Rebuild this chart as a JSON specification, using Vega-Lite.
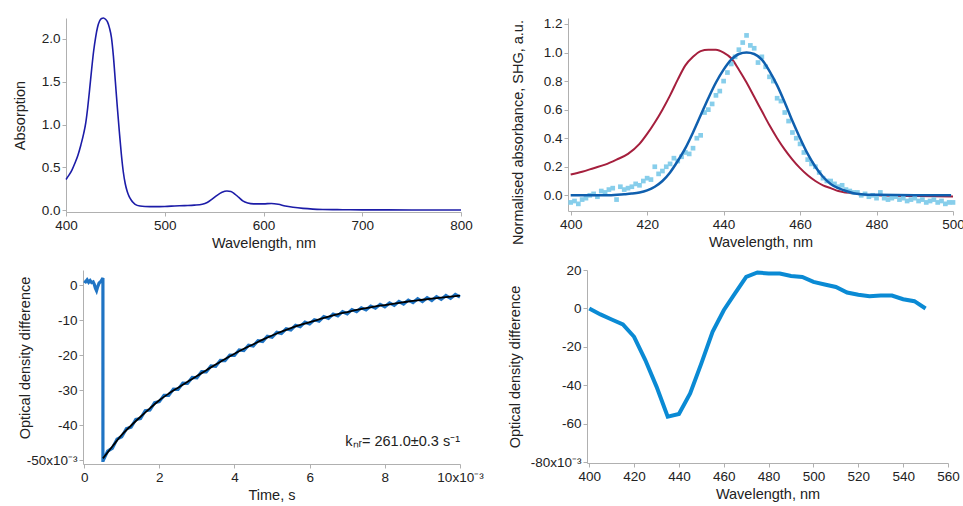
{
  "$schema": "https://vega.github.io/schema/vega-lite/v6.json",
  "padding": {"left": 12, "top": 14, "right": 0, "bottom": 0},
  "background": "white",
  "config": {
    "font": "Liberation Sans",
    "view": {"stroke": null},
    "axis": {"grid": false, "domainColor": "#b0b0b0", "tickColor": "#b0b0b0", "tickSize": 4, "labelPadding": 2, "labelFontSize": 13.5, "titleFontSize": 14.5, "titleFontWeight": "normal", "labelColor": "#222222", "titleColor": "#222222", "labelFont": "Liberation Sans", "titleFont": "Liberation Sans", "titlePadding": 5, "labelOverlap": false, "labelFlush": false, "tickCount": 20}
  },
  "datasets": {
    "abs": [{"w":400,"a":0.36},{"w":403,"a":0.41},{"w":406,"a":0.47},{"w":409,"a":0.55},{"w":412,"a":0.64},{"w":415,"a":0.76},{"w":418,"a":0.9},{"w":420,"a":1.02},{"w":422,"a":1.2},{"w":424,"a":1.42},{"w":426,"a":1.65},{"w":428,"a":1.86},{"w":430,"a":2.02},{"w":432,"a":2.14},{"w":434,"a":2.21},{"w":436,"a":2.24},{"w":438,"a":2.245},{"w":440,"a":2.23},{"w":442,"a":2.2},{"w":444,"a":2.13},{"w":446,"a":2.02},{"w":448,"a":1.8},{"w":450,"a":1.5},{"w":452,"a":1.2},{"w":454,"a":0.92},{"w":456,"a":0.66},{"w":458,"a":0.45},{"w":460,"a":0.31},{"w":462,"a":0.22},{"w":464,"a":0.16},{"w":466,"a":0.12},{"w":468,"a":0.09},{"w":470,"a":0.07},{"w":475,"a":0.05},{"w":480,"a":0.045},{"w":490,"a":0.043},{"w":500,"a":0.045},{"w":510,"a":0.05},{"w":520,"a":0.055},{"w":530,"a":0.06},{"w":538,"a":0.07},{"w":543,"a":0.09},{"w":548,"a":0.13},{"w":553,"a":0.175},{"w":558,"a":0.21},{"w":563,"a":0.225},{"w":567,"a":0.22},{"w":571,"a":0.19},{"w":575,"a":0.15},{"w":579,"a":0.11},{"w":584,"a":0.085},{"w":590,"a":0.075},{"w":600,"a":0.075},{"w":608,"a":0.08},{"w":615,"a":0.07},{"w":622,"a":0.05},{"w":630,"a":0.035},{"w":640,"a":0.022},{"w":650,"a":0.014},{"w":660,"a":0.01},{"w":680,"a":0.007},{"w":700,"a":0.005},{"w":750,"a":0.004},{"w":800,"a":0.003}],
    "norm": [
      {"w":400,"v":0.145},{"w":403,"v":0.165},{"w":406,"v":0.19},{"w":409,"v":0.215},{"w":412,"v":0.25},{"w":415,"v":0.29},{"w":418,"v":0.36},{"w":420,"v":0.43},{"w":422,"v":0.51},{"w":424,"v":0.6},{"w":426,"v":0.7},{"w":428,"v":0.81},{"w":430,"v":0.91},{"w":432,"v":0.97},{"w":434,"v":1.01},{"w":436,"v":1.02},{"w":438,"v":1.02},{"w":440,"v":1.0},{"w":442,"v":0.96},{"w":444,"v":0.88},{"w":446,"v":0.79},{"w":448,"v":0.69},{"w":450,"v":0.59},{"w":452,"v":0.49},{"w":454,"v":0.4},{"w":456,"v":0.32},{"w":458,"v":0.25},{"w":460,"v":0.19},{"w":462,"v":0.14},{"w":464,"v":0.1},{"w":466,"v":0.07},{"w":468,"v":0.05},{"w":470,"v":0.03},{"w":472,"v":0.02},{"w":474,"v":0.012},{"w":476,"v":0.006},{"w":480,"v":0.0},{"w":490,"v":-0.005},{"w":500,"v":-0.008}
    ],
    "fit": [{"w":400,"v":0.0},{"w":410,"v":0.0},{"w":414,"v":0.007},{"w":416,"v":0.012},{"w":418,"v":0.02},{"w":420,"v":0.035},{"w":422,"v":0.06},{"w":424,"v":0.1},{"w":426,"v":0.16},{"w":428,"v":0.24},{"w":430,"v":0.33},{"w":432,"v":0.44},{"w":434,"v":0.56},{"w":436,"v":0.68},{"w":438,"v":0.79},{"w":440,"v":0.88},{"w":442,"v":0.95},{"w":444,"v":0.99},{"w":446,"v":1.0},{"w":448,"v":0.99},{"w":450,"v":0.95},{"w":452,"v":0.87},{"w":454,"v":0.77},{"w":456,"v":0.65},{"w":458,"v":0.52},{"w":460,"v":0.4},{"w":462,"v":0.29},{"w":464,"v":0.2},{"w":466,"v":0.13},{"w":468,"v":0.08},{"w":470,"v":0.05},{"w":472,"v":0.03},{"w":474,"v":0.015},{"w":476,"v":0.008},{"w":480,"v":0.003},{"w":490,"v":0.0},{"w":499.5,"v":0.0}],
    "shg": [{"w":400,"v":-0.05},{"w":401,"v":-0.04},{"w":402,"v":-0.06},{"w":403,"v":-0.03},{"w":404,"v":-0.02},{"w":405,"v":0.0},{"w":406,"v":0.01},{"w":407,"v":-0.01},{"w":408,"v":0.03},{"w":409,"v":0.02},{"w":410,"v":0.04},{"w":411,"v":0.05},{"w":412,"v":-0.03},{"w":413,"v":0.06},{"w":414,"v":0.04},{"w":415,"v":0.05},{"w":416,"v":0.06},{"w":417,"v":0.08},{"w":418,"v":0.07},{"w":419,"v":0.1},{"w":420,"v":0.12},{"w":421,"v":0.11},{"w":422,"v":0.2},{"w":423,"v":0.15},{"w":424,"v":0.17},{"w":425,"v":0.2},{"w":426,"v":0.22},{"w":427,"v":0.26},{"w":428,"v":0.24},{"w":429,"v":0.27},{"w":430,"v":0.3},{"w":431,"v":0.29},{"w":432,"v":0.33},{"w":433,"v":0.4},{"w":434,"v":0.42},{"w":435,"v":0.58},{"w":436,"v":0.6},{"w":437,"v":0.64},{"w":438,"v":0.7},{"w":439,"v":0.73},{"w":440,"v":0.8},{"w":441,"v":0.86},{"w":442,"v":0.92},{"w":443,"v":0.97},{"w":444,"v":1.02},{"w":445,"v":1.07},{"w":446,"v":1.12},{"w":447,"v":1.05},{"w":448,"v":1.03},{"w":449,"v":0.93},{"w":450,"v":0.97},{"w":451,"v":0.9},{"w":452,"v":0.83},{"w":453,"v":0.8},{"w":454,"v":0.68},{"w":455,"v":0.66},{"w":456,"v":0.58},{"w":457,"v":0.52},{"w":458,"v":0.44},{"w":459,"v":0.4},{"w":460,"v":0.36},{"w":461,"v":0.3},{"w":462,"v":0.25},{"w":463,"v":0.22},{"w":464,"v":0.2},{"w":465,"v":0.16},{"w":466,"v":0.12},{"w":467,"v":0.1},{"w":468,"v":0.1},{"w":469,"v":0.08},{"w":470,"v":0.06},{"w":471,"v":0.07},{"w":472,"v":0.04},{"w":473,"v":0.03},{"w":474,"v":0.02},{"w":475,"v":0.02},{"w":476,"v":0.0},{"w":477,"v":0.01},{"w":478,"v":-0.01},{"w":479,"v":0.0},{"w":480,"v":-0.02},{"w":481,"v":0.02},{"w":482,"v":-0.02},{"w":483,"v":-0.03},{"w":484,"v":-0.02},{"w":485,"v":-0.01},{"w":486,"v":-0.03},{"w":487,"v":-0.02},{"w":488,"v":-0.04},{"w":489,"v":-0.03},{"w":490,"v":-0.02},{"w":491,"v":-0.04},{"w":492,"v":-0.03},{"w":493,"v":-0.05},{"w":494,"v":-0.04},{"w":495,"v":-0.03},{"w":496,"v":-0.05},{"w":497,"v":-0.04},{"w":498,"v":-0.06},{"w":499,"v":-0.05},{"w":500,"v":-0.05}],
    "kin": [{"i":1,"t":0.0,"v":1.2},{"i":2,"t":0.04,"v":0.9},{"i":3,"t":0.08,"v":1.5},{"i":4,"t":0.12,"v":0.8},{"i":5,"t":0.16,"v":1.3},{"i":6,"t":0.2,"v":0.7},{"i":7,"t":0.24,"v":0.9},{"i":8,"t":0.27,"v":0.2},{"i":9,"t":0.3,"v":-0.9},{"i":10,"t":0.33,"v":-1.6},{"i":11,"t":0.36,"v":-0.5},{"i":12,"t":0.4,"v":0.6},{"i":13,"t":0.44,"v":1.0},{"i":14,"t":0.48,"v":1.6},{"i":15,"t":0.5,"v":2.0},{"i":16,"t":0.5,"v":-50.5},
      {"i":17,"t":0.5,"v":-50.3},{"i":18,"t":0.625,"v":-47.4},{"i":19,"t":0.75,"v":-46.6},{"i":20,"t":0.875,"v":-44.0},{"i":21,"t":1.0,"v":-43.3},{"i":22,"t":1.125,"v":-41.0},{"i":23,"t":1.25,"v":-40.6},{"i":24,"t":1.375,"v":-38.4},{"i":25,"t":1.5,"v":-38.1},{"i":26,"t":1.625,"v":-35.9},{"i":27,"t":1.75,"v":-35.7},{"i":28,"t":1.875,"v":-33.6},{"i":29,"t":2.0,"v":-33.3},{"i":30,"t":2.125,"v":-31.5},{"i":31,"t":2.25,"v":-31.5},{"i":32,"t":2.375,"v":-29.7},{"i":33,"t":2.5,"v":-29.8},{"i":34,"t":2.625,"v":-28.0},{"i":35,"t":2.75,"v":-28.1},{"i":36,"t":2.875,"v":-26.4},{"i":37,"t":3.0,"v":-26.5},{"i":38,"t":3.125,"v":-24.7},{"i":39,"t":3.25,"v":-24.8},{"i":40,"t":3.375,"v":-23.1},{"i":41,"t":3.5,"v":-23.2},{"i":42,"t":3.625,"v":-21.5},{"i":43,"t":3.75,"v":-21.6},{"i":44,"t":3.875,"v":-20.0},{"i":45,"t":4.0,"v":-20.1},{"i":46,"t":4.125,"v":-18.5},{"i":47,"t":4.25,"v":-18.7},{"i":48,"t":4.375,"v":-17.2},{"i":49,"t":4.5,"v":-17.4},{"i":50,"t":4.625,"v":-15.9},{"i":51,"t":4.75,"v":-16.1},{"i":52,"t":4.875,"v":-14.6},{"i":53,"t":5.0,"v":-14.9},{"i":54,"t":5.125,"v":-13.5},{"i":55,"t":5.25,"v":-13.8},{"i":56,"t":5.375,"v":-12.5},{"i":57,"t":5.5,"v":-12.8},{"i":58,"t":5.625,"v":-11.5},{"i":59,"t":5.75,"v":-11.9},{"i":60,"t":5.875,"v":-10.6},{"i":61,"t":6.0,"v":-11.1},{"i":62,"t":6.125,"v":-9.9},{"i":63,"t":6.25,"v":-10.3},{"i":64,"t":6.375,"v":-9.0},{"i":65,"t":6.5,"v":-9.5},{"i":66,"t":6.625,"v":-8.3},{"i":67,"t":6.75,"v":-8.8},{"i":68,"t":6.875,"v":-7.6},{"i":69,"t":7.0,"v":-8.2},{"i":70,"t":7.125,"v":-7.0},{"i":71,"t":7.25,"v":-7.6},{"i":72,"t":7.375,"v":-6.5},{"i":73,"t":7.5,"v":-7.1},{"i":74,"t":7.625,"v":-6.0},{"i":75,"t":7.75,"v":-6.6},{"i":76,"t":7.875,"v":-5.5},{"i":77,"t":8.0,"v":-6.2},{"i":78,"t":8.125,"v":-5.1},{"i":79,"t":8.25,"v":-5.8},{"i":80,"t":8.375,"v":-4.7},{"i":81,"t":8.5,"v":-5.4},{"i":82,"t":8.625,"v":-4.3},{"i":83,"t":8.75,"v":-5.0},{"i":84,"t":8.875,"v":-3.9},{"i":85,"t":9.0,"v":-4.7},{"i":86,"t":9.125,"v":-3.6},{"i":87,"t":9.25,"v":-4.4},{"i":88,"t":9.375,"v":-3.3},{"i":89,"t":9.5,"v":-4.1},{"i":90,"t":9.625,"v":-3.0},{"i":91,"t":9.75,"v":-3.8},{"i":92,"t":9.875,"v":-2.7},{"i":93,"t":10.0,"v":-3.4}],
    "kfit": [{"t":0.5,"v":-49.5},{"t":0.75,"v":-46.1},{"t":1.0,"v":-42.8},{"t":1.25,"v":-40.1},{"t":1.5,"v":-37.6},{"t":1.75,"v":-35.2},{"t":2.0,"v":-32.9},{"t":2.25,"v":-31.0},{"t":2.5,"v":-29.3},{"t":2.75,"v":-27.6},{"t":3.0,"v":-26.0},{"t":3.25,"v":-24.3},{"t":3.5,"v":-22.7},{"t":3.75,"v":-21.1},{"t":4.0,"v":-19.6},{"t":4.25,"v":-18.2},{"t":4.5,"v":-16.9},{"t":4.75,"v":-15.6},{"t":5.0,"v":-14.4},{"t":5.25,"v":-13.3},{"t":5.5,"v":-12.3},{"t":5.75,"v":-11.4},{"t":6.0,"v":-10.6},{"t":6.25,"v":-9.8},{"t":6.5,"v":-9.0},{"t":6.75,"v":-8.3},{"t":7.0,"v":-7.7},{"t":7.25,"v":-7.1},{"t":7.5,"v":-6.6},{"t":7.75,"v":-6.1},{"t":8.0,"v":-5.7},{"t":8.25,"v":-5.3},{"t":8.5,"v":-4.9},{"t":8.75,"v":-4.5},{"t":9.0,"v":-4.2},{"t":9.25,"v":-3.9},{"t":9.5,"v":-3.6},{"t":9.75,"v":-3.3},{"t":10.0,"v":-3.0}],
    "note": [{"t":10.0,"v":-46.0,"txt":"kₙᵣ= 261.0±0.3 s⁻¹"}],
    "tr": [{"w":400,"v":0.0},{"w":405,"v":-3.1},{"w":410,"v":-5.7},{"w":415,"v":-8.3},{"w":420,"v":-14.7},{"w":425,"v":-26.8},{"w":430,"v":-40.6},{"w":435,"v":-56.2},{"w":440,"v":-54.8},{"w":445,"v":-44.1},{"w":450,"v":-28.5},{"w":455,"v":-12.1},{"w":460,"v":-0.9},{"w":465,"v":7.8},{"w":470,"v":16.4},{"w":475,"v":18.7},{"w":480,"v":18.2},{"w":485,"v":18.2},{"w":490,"v":16.9},{"w":495,"v":16.4},{"w":500,"v":13.8},{"w":505,"v":12.5},{"w":510,"v":11.2},{"w":515,"v":8.3},{"w":520,"v":7.1},{"w":525,"v":6.4},{"w":530,"v":6.7},{"w":535,"v":6.7},{"w":540,"v":4.8},{"w":545,"v":3.8},{"w":550,"v":0.0}]
  },
  "spacing": 13,
  "vconcat": [
    {
      "spacing": 36,
      "hconcat": [
        {
          "width": 395, "height": 194,
          "data": {"name": "abs"},
          "mark": {"type": "line", "color": "#1c1ca8", "strokeWidth": 1.6, "interpolate": "monotone"},
          "encoding": {
            "x": {"field": "w", "type": "quantitative", "scale": {"domain": [400, 800], "nice": false}, "axis": {"title": "Wavelength, nm", "values": [400, 500, 600, 700, 800], "format": "d", "labelFlush": false, "tickCount": 20}},
            "y": {"field": "a", "type": "quantitative", "scale": {"domain": [-0.02, 2.245], "nice": false, "zero": false}, "axis": {"title": "Absorption", "values": [0, 0.5, 1, 1.5, 2], "format": ".1f", "titleX": -39, "labelOverlap": false, "labelFlush": false, "tickCount": 20}}
          }
        },
        {
          "width": 385, "height": 193,
          "layer": [
            {
              "data": {"name": "norm"},
              "mark": {"type": "line", "color": "#a51f3d", "strokeWidth": 2, "interpolate": "monotone"},
              "encoding": {
                "x": {"field": "w", "type": "quantitative", "scale": {"domain": [399.3, 500], "nice": false, "zero": false}, "axis": {"title": "Wavelength, nm", "values": [400, 420, 440, 460, 480, 500], "format": "d", "labelFlush": false, "tickCount": 20}},
                "y": {"field": "v", "type": "quantitative", "scale": {"domain": [-0.11, 1.242], "nice": false, "zero": false}, "axis": {"title": "Normalised absorbance, SHG,  a.u.", "values": [0, 0.2, 0.4, 0.6, 0.8, 1.0, 1.2], "format": ".1f", "titleX": -43, "titleY": 114, "labelOverlap": false, "labelFlush": false, "tickCount": 20}}
              }
            },
            {
              "data": {"name": "shg"},
              "mark": {"type": "square", "size": 22, "color": "#87ceeb", "opacity": 1, "filled": true},
              "encoding": {
                "x": {"field": "w", "type": "quantitative"},
                "y": {"field": "v", "type": "quantitative"}
              }
            },
            {
              "data": {"name": "fit"},
              "mark": {"type": "line", "color": "#0f5fae", "strokeWidth": 2.5, "interpolate": "monotone"},
              "encoding": {
                "x": {"field": "w", "type": "quantitative"},
                "y": {"field": "v", "type": "quantitative"}
              }
            }
          ]
        }
      ]
    },
    {
      "spacing": 22,
      "hconcat": [
        {
          "width": 394, "height": 194,
          "layer": [
            {
              "data": {"name": "kin"},
              "mark": {"type": "line", "color": "#1f74c4", "strokeWidth": 3.2},
              "encoding": {
                "x": {"field": "t", "type": "quantitative", "scale": {"domain": [-0.03, 10], "nice": false, "range": [17, 394]}, "axis": {"title": "Time, s", "values": [0, 2, 4, 6, 8, 10], "format": "d", "labelExpr": "datum.value == 10 ? '10x10⁻³' : datum.label", "labelFlush": false, "labelOverlap": false, "tickCount": 20}},
                "y": {"field": "v", "type": "quantitative", "scale": {"domain": [-51.1, 4.3], "nice": false, "zero": false}, "axis": {"title": "Optical density difference", "values": [0, -10, -20, -30, -40, -50], "format": "d", "labelExpr": "datum.value == -50 ? '-50x10⁻³' : replace(datum.label, '−', '-')", "offset": -17, "titleX": -51, "titleY": 87.5, "labelOverlap": false, "labelFlush": false, "tickCount": 20}},
                "order": {"field": "i", "type": "quantitative"}
              }
            },
            {
              "data": {"name": "kfit"},
              "mark": {"type": "line", "color": "#000000", "strokeWidth": 1.8, "interpolate": "monotone"},
              "encoding": {
                "x": {"field": "t", "type": "quantitative"},
                "y": {"field": "v", "type": "quantitative"}
              }
            },
            {
              "data": {"name": "note"},
              "mark": {"type": "text", "align": "right", "baseline": "alphabetic", "fontSize": 14.5, "color": "#222222", "font": "Liberation Sans"},
              "encoding": {
                "x": {"field": "t", "type": "quantitative"},
                "y": {"field": "v", "type": "quantitative"},
                "text": {"field": "txt"}
              }
            }
          ]
        },
        {
          "width": 385, "height": 193,
          "data": {"name": "tr"},
          "mark": {"type": "line", "color": "#0a8ad4", "strokeWidth": 4},
          "encoding": {
            "x": {"field": "w", "type": "quantitative", "scale": {"domain": [399, 560], "nice": false, "zero": false, "range": [24, 385]}, "axis": {"title": "Wavelength, nm", "values": [400, 420, 440, 460, 480, 500, 520, 540, 560], "format": "d", "labelFlush": false, "tickCount": 20}},
            "y": {"field": "v", "type": "quantitative", "scale": {"domain": [-80.3, 20], "nice": false, "zero": false}, "axis": {"title": "Optical density difference", "values": [20, 0, -20, -40, -60, -80], "format": "d", "labelExpr": "datum.value == -80 ? '-80x10⁻³' : replace(datum.label, '−', '-')", "offset": -24, "titleX": -65, "labelOverlap": false, "labelFlush": false, "tickCount": 20}}
          }
        }
      ]
    }
  ]
}
